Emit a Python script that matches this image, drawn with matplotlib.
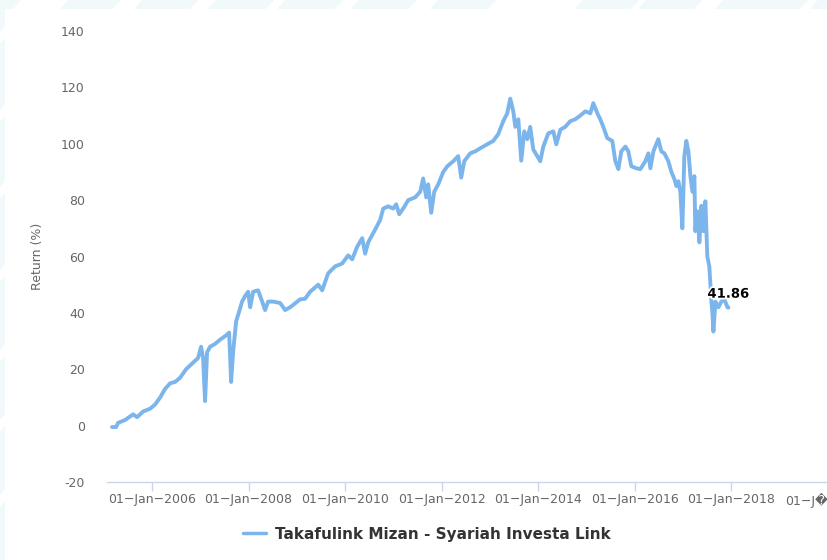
import matplotlib
matplotlib.use("Agg")
import matplotlib.pyplot as plt
import matplotlib.dates as mdates
import matplotlib.patheffects as pe
from matplotlib.patches import Polygon, Rectangle
import numpy as np
import pandas as pd

series_name = "Takafulink Mizan - Syariah Investa Link"
dates = [
    "2005-03-04", "2005-04-04", "2005-04-19", "2005-06-11", "2005-08-10", "2005-09-10",
    "2005-10-02", "2005-10-25", "2005-12-17", "2006-01-24", "2006-03-03", "2006-04-09",
    "2006-05-17", "2006-06-24", "2006-08-01", "2006-09-15", "2006-10-31", "2006-12-15",
    "2007-01-07", "2007-01-22", "2007-02-06", "2007-02-21", "2007-03-16", "2007-04-23",
    "2007-05-31", "2007-07-15", "2007-08-07", "2007-08-22", "2007-09-06", "2007-09-29",
    "2007-10-22", "2007-11-13", "2007-12-06", "2007-12-29", "2008-01-13", "2008-02-05",
    "2008-03-13", "2008-04-13", "2008-05-05", "2008-05-28", "2008-07-05", "2008-08-27",
    "2008-10-04", "2008-11-11", "2009-01-25", "2009-03-04", "2009-04-11", "2009-06-11",
    "2009-07-11", "2009-08-25", "2009-10-17", "2009-12-09", "2010-01-24", "2010-02-23",
    "2010-04-02", "2010-05-10", "2010-06-01", "2010-06-24", "2010-08-16", "2010-09-23",
    "2010-10-16", "2010-11-23", "2010-12-30", "2011-01-22", "2011-02-14", "2011-03-16",
    "2011-04-23", "2011-06-15", "2011-07-23", "2011-08-14", "2011-09-06", "2011-09-21",
    "2011-10-14", "2011-11-06", "2011-12-06", "2012-01-13", "2012-02-12", "2012-03-29",
    "2012-05-05", "2012-05-28", "2012-06-20", "2012-08-04", "2012-09-11", "2012-10-19",
    "2012-12-19", "2013-01-25", "2013-03-04", "2013-04-11", "2013-05-11", "2013-06-03",
    "2013-06-26", "2013-07-11", "2013-08-03", "2013-08-25", "2013-09-17", "2013-10-10",
    "2013-11-01", "2013-11-24", "2013-12-24", "2014-01-16", "2014-02-08", "2014-03-18",
    "2014-04-25", "2014-05-17", "2014-06-17", "2014-07-24", "2014-08-31", "2014-10-08",
    "2014-11-15", "2014-12-23", "2015-01-30", "2015-02-21", "2015-03-24", "2015-04-15",
    "2015-05-08", "2015-06-07", "2015-07-15", "2015-08-07", "2015-08-30", "2015-09-21",
    "2015-10-22", "2015-11-13", "2015-12-06", "2016-01-13", "2016-02-12", "2016-03-21",
    "2016-04-13", "2016-04-28", "2016-05-21", "2016-06-12", "2016-06-27", "2016-07-20",
    "2016-08-12", "2016-09-11", "2016-10-04", "2016-10-27", "2016-11-11", "2016-11-26",
    "2016-12-11", "2016-12-26", "2017-01-10", "2017-01-25", "2017-02-10", "2017-02-25",
    "2017-03-12", "2017-03-27", "2017-04-03", "2017-04-19", "2017-05-04", "2017-05-19",
    "2017-06-03", "2017-06-18", "2017-07-03", "2017-07-18", "2017-08-03", "2017-08-10",
    "2017-08-18", "2017-09-02", "2017-09-25", "2017-10-17", "2017-11-09", "2017-12-02",
    "2017-12-10",
]
returns = [
    -0.5, -0.5, 1.0, 2.0, 4.0, 3.0,
    4.0, 5.0, 6.0, 7.5, 10.0, 13.0,
    15.0, 15.5, 17.0, 20.0, 22.0, 24.0,
    28.0, 24.0, 8.7, 26.0, 28.0, 29.0,
    30.5, 32.0, 33.0, 15.5, 26.0, 37.0,
    40.5, 44.0, 46.0, 47.5, 42.0, 47.5,
    48.0, 44.0, 41.0, 44.0, 44.0, 43.5,
    41.0, 42.0, 44.8, 45.0, 47.5, 50.0,
    48.0, 54.0, 56.5, 57.5, 60.4, 59.0,
    63.5, 66.5, 61.0, 65.0, 69.6, 73.0,
    77.0, 77.8, 77.0, 78.5, 75.0, 77.0,
    80.0, 81.0, 83.0, 87.7, 81.0, 85.6,
    75.5, 83.0, 85.6, 90.0, 92.0, 93.8,
    95.6, 88.0, 93.8, 96.6, 97.3, 98.4,
    100.0, 101.0, 103.4, 108.0, 110.8, 116.0,
    111.5, 106.0, 108.7, 94.0, 104.4, 101.6,
    106.0, 98.0, 95.6, 93.8, 99.0, 103.7,
    104.4, 99.8, 105.0, 106.0, 108.0, 108.7,
    110.0, 111.5, 110.8, 114.4, 110.8, 108.7,
    106.0, 102.0, 101.0, 93.8, 91.0, 97.3,
    99.0, 97.3, 92.0, 91.3, 91.0, 93.8,
    96.6, 91.3, 97.3, 99.8, 101.6, 97.3,
    96.6, 93.8, 90.0, 87.4, 85.0, 86.7,
    83.0, 70.0, 95.6, 101.0, 97.3, 88.5,
    83.0, 88.5, 69.0, 76.0, 65.0, 78.0,
    69.0, 79.6, 60.0, 56.5, 44.0, 40.5,
    33.4, 44.0, 42.0, 44.0, 44.8, 42.0,
    41.86,
]
yticks = [-20, 0, 20, 40, 60, 80, 100, 120, 140]
xtick_dates = ["2006-01-01", "2008-01-01", "2010-01-01", "2012-01-01",
               "2014-01-01", "2016-01-01", "2018-01-01", "2020-01-01"]
xtick_labels = ["01\u2212Jan\u22122006", "01\u2212Jan\u22122008", "01\u2212Jan\u22122010",
                "01\u2212Jan\u22122012", "01\u2212Jan\u22122014", "01\u2212Jan\u22122016",
                "01\u2212Jan\u22122018", "01\u2212J\ufffd"]
last_label = "41.86"

W, H = 828, 560
fig = plt.figure(figsize=(W / 100, H / 100), dpi=100)
fig.patch.set_facecolor("white")

# decorative background strips
pat = "#f1f9fb"
def fx(px):
    return px / W
def fy(py):
    return 1 - py / H
fig.patches.append(Rectangle((0, fy(9)), 1, 9 / H, transform=fig.transFigure,
                             facecolor=pat, edgecolor="none", zorder=0))
fig.patches.append(Rectangle((0, 0), 5 / W, 1, transform=fig.transFigure,
                             facecolor=pat, edgecolor="none", zorder=0))
top_gaps = [(16, 63), (116, 137), (193, 211), (269, 280), (338, 354), (412, 433),
            (491, 578), (634, 641), (697, 718), (803, 813)]
for a, b in top_gaps:
    poly = [(fx(a + 5), fy(0)), (fx(b + 5), fy(0)), (fx(b - 3), fy(9)), (fx(a - 3), fy(9))]
    fig.patches.append(Polygon(poly, closed=True, transform=fig.transFigure,
                               facecolor="white", edgecolor="none", zorder=0))
left_gaps = [32, 110, 187, 270, 350, 420, 495]
for g in left_gaps:
    poly = [(fx(0), fy(g)), (fx(5), fy(g - 6)), (fx(5), fy(g + 6)), (fx(0), fy(g + 12))]
    fig.patches.append(Polygon(poly, closed=True, transform=fig.transFigure,
                               facecolor="white", edgecolor="none", zorder=0))

ax = fig.add_axes([107 / W, 1 - 482 / H, (W - 107) / W, (482 - 31) / H])
ax.set_facecolor("white")

d = pd.to_datetime(dates)
ax.plot(d, returns, color="#7cb5ec", lw=2.8, solid_joinstyle="round",
        solid_capstyle="round", label=series_name, zorder=3)

ax.set_ylim(-20, 140)
ax.set_yticks(yticks)
ax.set_yticklabels([str(v) for v in yticks])
ax.set_xlim(pd.Timestamp("2005-01-25"), pd.Timestamp("2020-01-02"))
xt = pd.to_datetime(xtick_dates)
ax.set_xticks(mdates.date2num(xt))
ax.set_xticklabels(xtick_labels)

for s in ["top", "right", "left"]:
    ax.spines[s].set_visible(False)
ax.spines["bottom"].set_color("#ccd6eb")
ax.spines["bottom"].set_linewidth(1)
ax.tick_params(axis="y", length=0, pad=16, labelsize=9, labelcolor="#666666")
ax.tick_params(axis="x", length=6.5, width=1, color="#ccd6eb", pad=1.5,
               labelsize=9, labelcolor="#666666")
labels = ax.get_xticklabels()
labels[-1].set_horizontalalignment("right")

ax.set_ylabel("Return (%)", color="#666666", fontsize=9)
ax.yaxis.set_label_coords(-(107 - 44) / (W - 107), 0.5)

# label for the last point
ax.annotate(last_label, (d[-1], returns[-1]), xytext=(0, 5), textcoords="offset points",
            ha="center", va="bottom", fontsize=9.5, fontweight="bold", color="black",
            path_effects=[pe.withStroke(linewidth=2.5, foreground="white")], zorder=5)

leg = fig.legend(loc="center", bbox_to_anchor=(427 / W, 1 - 534 / H), frameon=False,
                 handlelength=1.5, handletextpad=0.6, prop={"weight": "bold", "size": 11})
for t in leg.get_texts():
    t.set_color("#333333")
for h in leg.legend_handles:
    h.set_linewidth(2.5)

fig.savefig("out.png", dpi=100, facecolor="white")
